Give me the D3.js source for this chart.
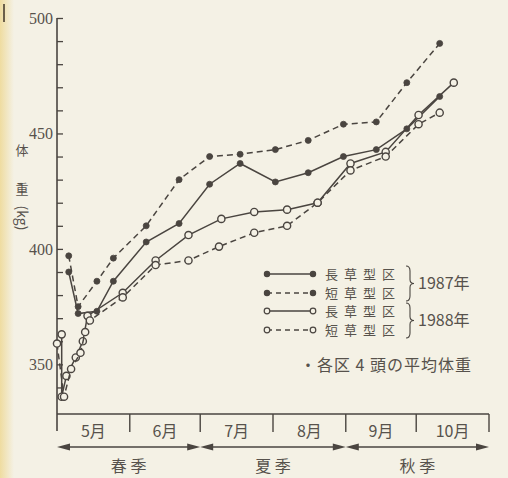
<!DOCTYPE html>
<html>
<head>
<meta charset="utf-8">
<script src="https://cdn.jsdelivr.net/npm/d3@7"></script>
<style>
  body { margin: 0; background: #f4f1e5; }
  svg { display: block; }
  text { fill: #57524c; }
</style>
</head>
<body>
<svg id="chart" width="508" height="478"></svg>
<script>
// x labels
const months = ["5月", "6月", "7月", "8月", "9月", "10月"];
const seasons = ["春 季", "夏 季", "秋 季"];
const yTicks = [350, 400, 450, 500];

// 1987 (filled dots), weighed about every two weeks
const dates1987 = ["05-06", "05-10", "05-18", "05-25", "06-08", "06-22", "07-05", "07-18", "08-02", "08-16", "08-31", "09-14", "09-27", "10-11"];
const long1987 = [390, 372, 373, 386, 403, 411, 428, 437, 429, 433, 440, 443, 452, 466];
const short1987 = [397, 375, 386, 396, 410, 430, 440, 441, 443, 447, 454, 455, 472, 489];

// 1988 (open dots)
const datesLong1988 = ["05-03", "05-03", "05-05", "05-09", "05-12", "05-14", "05-29", "06-12", "06-26", "07-10", "07-24", "08-07", "08-20", "09-03", "09-18", "10-02", "10-17"];
const long1988 = [363, 336, 345, 353, 360, 371, 381, 395, 406, 413, 416, 417, 420, 437, 442, 458, 472];
const datesShort1988 = ["05-01", "05-04", "05-07", "05-11", "05-13", "05-15", "05-29", "06-12", "06-26", "07-09", "07-24", "08-07", "08-20", "09-03", "09-18", "10-02", "10-11"];
const short1988 = [359, 336, 348, 355, 364, 369, 379, 393, 395, 401, 407, 410, 420, 434, 440, 454, 459];

const legendNames = ["長草型区", "短草型区", "長草型区", "短草型区"];
const legendYears = ["1987年", "1988年"];
const note = "・各区 4 頭の平均体重";

const ink = "#4a4540";
const paper = "#f4f1e5";
const parse = d3.timeParse("%m-%d");

const series = [
  { dates: dates1987, values: long1987, dashed: false, filled: true },
  { dates: dates1987, values: short1987, dashed: true, filled: true },
  { dates: datesLong1988, values: long1988, dashed: false, filled: false },
  { dates: datesShort1988, values: short1988, dashed: true, filled: false }
].map(s => ({ ...s, points: s.dates.map((d, i) => ({ date: parse(d), value: s.values[i] })) }));

const svg = d3.select("#chart");

// yellowish page edge
const grad = svg.append("defs").append("linearGradient").attr("id", "edge");
grad.append("stop").attr("offset", "0%").attr("stop-color", "#efdca0");
grad.append("stop").attr("offset", "100%").attr("stop-color", paper);
svg.append("rect").attr("x", 0).attr("y", 0).attr("width", 14).attr("height", 478).attr("fill", "url(#edge)");
svg.append("line").attr("x1", 4).attr("x2", 4).attr("y1", 4).attr("y2", 22).attr("stroke", "#6b5f4a").attr("stroke-width", 2);

const x = d3.scaleTime()
  .domain([parse("05-01"), parse("11-01")])
  .range([57, 489]);

const y = d3.scaleLinear()
  .domain([328.5, 500])
  .range([414, 18]);

// y axis with ticks pointing into the plot
const yAxis = svg.append("g")
  .attr("transform", `translate(${x.range()[0]},0)`)
  .call(d3.axisRight(y).tickValues(d3.range(340, 501, 10)).tickSize(6).tickFormat(""));
yAxis.select(".domain").remove();
yAxis.selectAll("line").attr("stroke", ink).attr("stroke-width", 1.3);

svg.append("line")
  .attr("x1", 57).attr("x2", 57)
  .attr("y1", y(500)).attr("y2", 431)
  .attr("stroke", ink).attr("stroke-width", 1.6);

svg.append("g")
  .selectAll("text")
  .data(yTicks)
  .join("text")
  .attr("x", 53)
  .attr("y", d => y(d))
  .attr("dy", "0.35em")
  .attr("text-anchor", "end")
  .style("font-family", "Liberation Serif")
  .style("font-size", "16px")
  .text(d => d);

// y title, written vertically
const yTitle = svg.append("g").style("font-family", "Noto Sans CJK JP").style("font-size", "13px");
yTitle.append("text").attr("x", 22).attr("y", 150).attr("text-anchor", "middle").attr("dy", "0.35em").text("体");
yTitle.append("text").attr("x", 22).attr("y", 189).attr("text-anchor", "middle").attr("dy", "0.35em").text("重");
yTitle.append("text").attr("transform", "translate(22,218) rotate(90)").attr("text-anchor", "middle").attr("dy", "0.35em").style("font-size", "14px").text("(kg)");

// x axis, month boundaries
const monthStarts = d3.timeMonth.range(parse("05-01"), parse("11-02"));
svg.append("line")
  .attr("x1", 57).attr("x2", x(parse("11-01")))
  .attr("y1", 414).attr("y2", 414)
  .attr("stroke", ink).attr("stroke-width", 1.6);

svg.append("g")
  .selectAll("line")
  .data(monthStarts.slice(1))
  .join("line")
  .attr("x1", d => x(d)).attr("x2", d => x(d))
  .attr("y1", 414).attr("y2", 432)
  .attr("stroke", ink).attr("stroke-width", 1.4);

svg.append("g")
  .selectAll("text")
  .data(months)
  .join("text")
  .attr("x", (d, i) => (x(monthStarts[i]) + x(monthStarts[i + 1])) / 2)
  .attr("y", 431)
  .attr("dy", "0.35em")
  .attr("text-anchor", "middle")
  .style("font-family", "Noto Sans CJK JP")
  .style("font-size", "16px")
  .text(d => d);

// season arrows
const seasonSpans = seasons.map((s, i) => ({ name: s, x0: x(monthStarts[i * 2]), x1: x(monthStarts[i * 2 + 2]) }));
const arrows = svg.append("g");
seasonSpans.forEach(s => {
  arrows.append("line")
    .attr("x1", s.x0 + 6).attr("x2", s.x1 - 6)
    .attr("y1", 447).attr("y2", 447)
    .attr("stroke", ink).attr("stroke-width", 1.5);
  arrows.append("path")
    .attr("d", `M${s.x0},447 L${s.x0 + 13},443.5 L${s.x0 + 13},450.5 Z`)
    .attr("fill", ink);
  arrows.append("path")
    .attr("d", `M${s.x1},447 L${s.x1 - 13},443.5 L${s.x1 - 13},450.5 Z`)
    .attr("fill", ink);
});

svg.append("g")
  .selectAll("text")
  .data(seasonSpans)
  .join("text")
  .attr("x", d => (d.x0 + d.x1) / 2)
  .attr("y", 466)
  .attr("dy", "0.35em")
  .attr("text-anchor", "middle")
  .style("font-family", "Noto Sans CJK JP")
  .style("font-size", "16px")
  .text(d => d.name);

// the four lines
const line = d3.line().x(d => x(d.date)).y(d => y(d.value));

series.forEach(s => {
  svg.append("path")
    .datum(s.points)
    .attr("d", line)
    .attr("fill", "none")
    .attr("stroke", ink)
    .attr("stroke-width", 1.5)
    .attr("stroke-dasharray", s.dashed ? "6,4" : null);

  svg.append("g")
    .selectAll("circle")
    .data(s.points)
    .join("circle")
    .attr("cx", d => x(d.date))
    .attr("cy", d => y(d.value))
    .attr("r", s.filled ? 3 : 3.6)
    .attr("fill", s.filled ? ink : paper)
    .attr("stroke", ink)
    .attr("stroke-width", s.filled ? 0.8 : 1.4);
});

// legend
const legendRows = [274, 293, 311, 330];
const legend = svg.append("g");
series.forEach((s, i) => {
  const ly = legendRows[i];
  legend.append("line")
    .attr("x1", 267).attr("x2", 313)
    .attr("y1", ly).attr("y2", ly)
    .attr("stroke", ink).attr("stroke-width", 1.5)
    .attr("stroke-dasharray", s.dashed ? "5,4" : null);
  legend.selectAll(null)
    .data([267, 313])
    .join("circle")
    .attr("cx", d => d).attr("cy", ly)
    .attr("r", s.filled ? 2.6 : 2.8)
    .attr("fill", s.filled ? ink : paper)
    .attr("stroke", ink)
    .attr("stroke-width", 1.2);
  legend.append("text")
    .attr("x", 325).attr("y", ly)
    .attr("dy", "0.36em")
    .style("font-family", "Noto Sans CJK JP")
    .style("font-size", "13px")
    .style("letter-spacing", "6px")
    .text(legendNames[i]);
});

// braces + years
legendYears.forEach((yr, i) => {
  const top = legendRows[i * 2] - 8;
  const bot = legendRows[i * 2 + 1] + 8;
  const mid = (top + bot) / 2;
  const bx = 406;
  legend.append("path")
    .attr("d", `M${bx},${top} Q${bx + 4},${top} ${bx + 4},${top + 5} L${bx + 4},${mid - 4} Q${bx + 4},${mid} ${bx + 8},${mid} Q${bx + 4},${mid} ${bx + 4},${mid + 4} L${bx + 4},${bot - 5} Q${bx + 4},${bot} ${bx},${bot}`)
    .attr("fill", "none")
    .attr("stroke", ink)
    .attr("stroke-width", 1.1);
  legend.append("text")
    .attr("x", 418).attr("y", mid)
    .attr("dy", "0.36em")
    .style("font-family", "Noto Sans CJK JP")
    .style("font-size", "16px")
    .text(yr);
});

legend.append("text")
  .attr("x", 300).attr("y", 365)
  .attr("dy", "0.36em")
  .style("font-family", "Noto Sans CJK JP")
  .style("font-size", "16px")
  .style("letter-spacing", "1px")
  .text(note);
</script>
</body>
</html>
